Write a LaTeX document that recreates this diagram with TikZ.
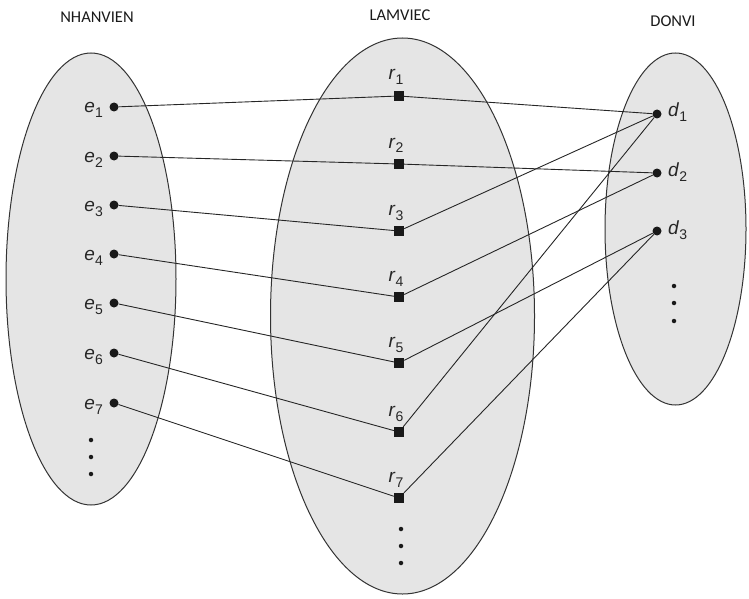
\documentclass[tikz,border=0pt]{standalone}
\usepackage{fontspec}
\setmainfont{Liberation Sans}
\newfontfamily\titlefont{Carlito}
\newcommand\lab[2]{\textit{#1}\raisebox{-5pt}{\fontsize{14}{14}\selectfont #2}}
\begin{document}
\begin{tikzpicture}[x=1pt,y=-1pt,
  setshape/.style={draw=black!80, fill=gray!20, line width=1pt},
  ent/.style={circle, fill=black!90, inner sep=0pt, minimum size=9pt},
  relbox/.style={rectangle, fill=black!90, inner sep=0pt, minimum size=10pt},
  lbl/.style={inner sep=0pt, text=black!85, font=\fontsize{19}{19}\selectfont},
  link/.style={line width=0.9pt, draw=black!85},
  titletext/.style={inner sep=0pt, text=black!90, font=\titlefont\fontsize{16.5}{17}\selectfont},
  vdot/.style={circle, fill=black!90, inner sep=0pt, minimum size=4.5pt}
]
\useasboundingbox (0,0) rectangle (749,599);
% sets
\draw[setshape] (91,279) ellipse [x radius=85, y radius=226];
\draw[setshape] (402.5,316) ellipse [x radius=132, y radius=278];
\draw[setshape] (675.5,229) ellipse [x radius=70.5, y radius=176];
% titles
\node[titletext] (tN) at (97,17) {NHANVIEN};
\node[titletext] (tL) at (400,15) {LAMVIEC};
\node[titletext] (tD) at (673,21) {DONVI};
% entities
\foreach \i/\y in {1/107,2/156,3/205,4/254,5/303,6/353,7/403}{
  \node[ent] (e\i) at (114,\y) {};
  \node[lbl, anchor=base east] (le\i) at (103,\y+6) {\lab{e}{\i}};
}
\foreach \i/\y in {1/96,2/164,3/231,4/297,5/363,6/432,7/498}{
  \node[relbox] (r\i) at (399,\y) {};
  \node[lbl, anchor=base] (lr\i) at (396,\y-16) {\lab{r}{\i}};
}
\foreach \i/\y in {1/114,2/173,3/231}{
  \node[ent] (d\i) at (657,\y) {};
  \node[lbl, anchor=base west] (ld\i) at (668,\y+3) {\lab{d}{\i}};
}
% vertical ellipses
\foreach \k/\y in {1/440,2/457,3/474}{\node[vdot] (le\k) at (91,\y) {};}
\foreach \k/\y in {1/529,2/546,3/563}{\node[vdot] (lm\k) at (401,\y) {};}
\foreach \k/\y in {1/286,2/303,3/321}{\node[vdot] (ri\k) at (674,\y) {};}
% links
\foreach \i in {1,...,7}{\draw[link] (e\i) -- (r\i);}
\foreach \a/\b in {1/1,2/2,3/1,4/2,5/3,6/1,7/3}{\draw[link] (r\a) -- (d\b);}
\end{tikzpicture}
\end{document}
